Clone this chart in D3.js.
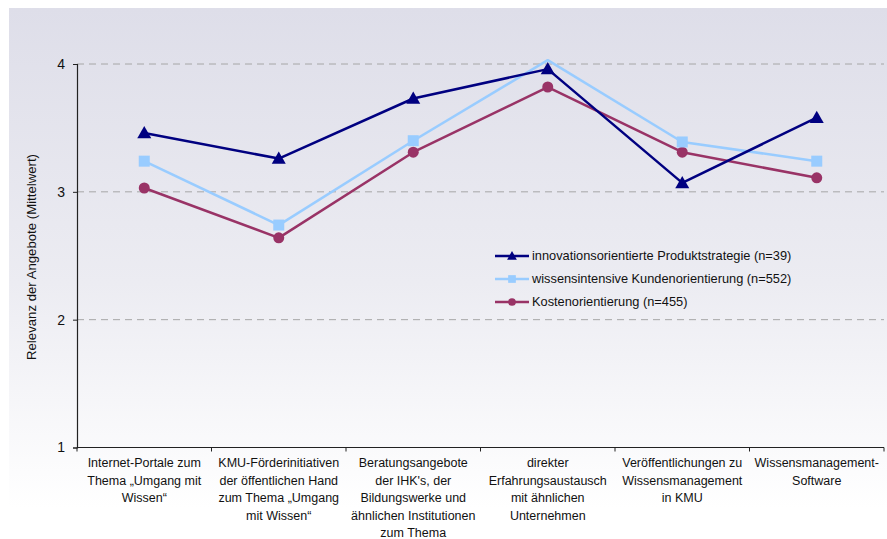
<!DOCTYPE html>
<html>
<head>
<meta charset="utf-8">
<script src="https://cdn.jsdelivr.net/npm/d3@7/dist/d3.min.js"></script>
<style>
  html, body { margin: 0; padding: 0; background: #fff; }
  svg { display: block; font-family: "Liberation Sans", Arial, sans-serif; }
</style>
</head>
<body>
<svg id="chart" width="887" height="539"></svg>
<script>
// Angebote (categories), each given as its wrapped label lines
const categories = [
  ["Internet-Portale zum", "Thema „Umgang mit", "Wissen“"],
  ["KMU-Förderinitiativen", "der öffentlichen Hand", "zum Thema „Umgang", "mit Wissen“"],
  ["Beratungsangebote", "der IHK's, der", "Bildungswerke und", "ähnlichen Institutionen", "zum Thema"],
  ["direkter", "Erfahrungsaustausch", "mit ähnlichen", "Unternehmen"],
  ["Veröffentlichungen zu", "Wissensmanagement", "in KMU"],
  ["Wissensmanagement-", "Software"]
];

// Mittelwerte je Strategiegruppe
const innovation = [3.46, 3.26, 3.73, 3.96, 3.07, 3.58];
const wissen     = [3.24, 2.74, 3.40, 4.03, 3.39, 3.24];
const kosten     = [3.03, 2.64, 3.31, 3.82, 3.31, 3.11];

const seriesNames = [
  "innovationsorientierte Produktstrategie (n=39)",
  "wissensintensive Kundenorientierung (n=552)",
  "Kostenorientierung (n=455)"
];
const yTicks = [1, 2, 3, 4];
const yTitle = "Relevanz der Angebote (Mittelwert)";

const series = [
  { name: seriesNames[0], values: innovation, color: "#000080", marker: "triangle", hidden: [] },
  { name: seriesNames[1], values: wissen,     color: "#99ccff", marker: "square",   hidden: [3] },
  { name: seriesNames[2], values: kosten,     color: "#993366", marker: "circle",   hidden: [] }
];

const svg = d3.select("#chart");
const W = 887, H = 539;
const plot = { left: 77, right: 884, top: 64, bottom: 447.5 };

// background panel with vertical gradient
const defs = svg.append("defs");
const grad = defs.append("linearGradient").attr("id", "bg").attr("x1", 0).attr("y1", 0).attr("x2", 0).attr("y2", 1);
grad.append("stop").attr("offset", "0%").attr("stop-color", "#dedee9");
grad.append("stop").attr("offset", "55%").attr("stop-color", "#ececf2");
grad.append("stop").attr("offset", "100%").attr("stop-color", "#ffffff");
svg.append("rect").attr("x", 9).attr("y", 8).attr("width", W - 9).attr("height", 500).attr("fill", "url(#bg)");

const x = d3.scaleBand().domain(d3.range(categories.length)).range([plot.left, plot.right]).padding(0);
const y = d3.scaleLinear().domain([1, 4]).range([plot.bottom, plot.top]);
const cx = i => x(i) + x.bandwidth() / 2;

// dashed gridlines
svg.append("g").selectAll("line").data(yTicks.filter(t => t > 1)).join("line")
  .attr("x1", plot.left).attr("x2", plot.right)
  .attr("y1", d => y(d)).attr("y2", d => y(d))
  .attr("stroke", "#a6a6a6").attr("stroke-width", 1).attr("stroke-dasharray", "7,5");

// y axis
const yAxis = svg.append("g").attr("transform", `translate(${plot.left},0)`)
  .call(d3.axisLeft(y).tickValues(yTicks).tickFormat(d3.format("d")).tickSize(4).tickPadding(8));
yAxis.select(".domain").attr("stroke", "#222").attr("stroke-width", 1.2);
yAxis.selectAll(".tick line").attr("stroke", "#222");
yAxis.selectAll("text").attr("font-size", 14).attr("fill", "#111").attr("font-family", "Liberation Sans, Arial, sans-serif");

// x axis with boundary ticks
const xg = svg.append("g");
xg.append("line").attr("x1", plot.left).attr("x2", plot.right)
  .attr("y1", plot.bottom).attr("y2", plot.bottom).attr("stroke", "#222").attr("stroke-width", 1.2);
const bounds = d3.range(categories.length + 1).map(i => i < categories.length ? x(i) : plot.right);
xg.selectAll("line.tk").data(bounds).join("line").attr("class", "tk")
  .attr("x1", d => d).attr("x2", d => d)
  .attr("y1", plot.bottom).attr("y2", plot.bottom + 4).attr("stroke", "#222");

xg.selectAll("text.cat").data(categories).join("text").attr("class", "cat")
  .attr("text-anchor", "middle").attr("font-size", 12.5).attr("fill", "#111")
  .each(function(lines, i) {
    d3.select(this).selectAll("tspan").data(lines).join("tspan")
      .attr("x", cx(i)).attr("y", (d, k) => 467 + k * 17.6).text(d => d);
  });

// y axis title
svg.append("text").attr("transform", "translate(36,257) rotate(-90)")
  .attr("text-anchor", "middle").attr("font-size", 13.2).attr("fill", "#111").text(yTitle);

// markers
function drawMarker(g, type, color, px, py) {
  if (type === "triangle") {
    const s = 7;
    g.append("path").attr("d", `M${px},${py - s}L${px + s},${py + s * 0.75}L${px - s},${py + s * 0.75}Z`).attr("fill", color);
  } else if (type === "square") {
    g.append("rect").attr("x", px - 5.5).attr("y", py - 5.5).attr("width", 11).attr("height", 11).attr("fill", color);
  } else {
    g.append("circle").attr("cx", px).attr("cy", py).attr("r", 5.5).attr("fill", color);
  }
}

const line = d3.line().x((d, i) => cx(i)).y(d => y(d));
// draw in reverse so the first series sits on top
[...series].reverse().forEach(s => {
  const g = svg.append("g");
  g.append("path").datum(s.values).attr("d", line)
    .attr("fill", "none").attr("stroke", s.color).attr("stroke-width", 2.5).attr("stroke-linejoin", "round");
  s.values.forEach((v, i) => {
    if (!s.hidden.includes(i)) drawMarker(g, s.marker, s.color, cx(i), y(v));
  });
});

// legend
const leg = svg.append("g").attr("transform", "translate(495,256)");
series.forEach((s, i) => {
  const row = leg.append("g").attr("transform", `translate(0,${i * 23})`);
  row.append("line").attr("x1", 0).attr("x2", 34).attr("y1", 0).attr("y2", 0).attr("stroke", s.color).attr("stroke-width", 2.5);
  const mg = row.append("g").attr("transform", "translate(17,0) scale(0.7)");
  drawMarker(mg, s.marker, s.color, 0, 0);
  row.append("text").attr("x", 37).attr("y", 0).attr("dy", "0.35em")
    .attr("font-size", 12.8).attr("fill", "#111").text(s.name);
});
</script>
</body>
</html>
